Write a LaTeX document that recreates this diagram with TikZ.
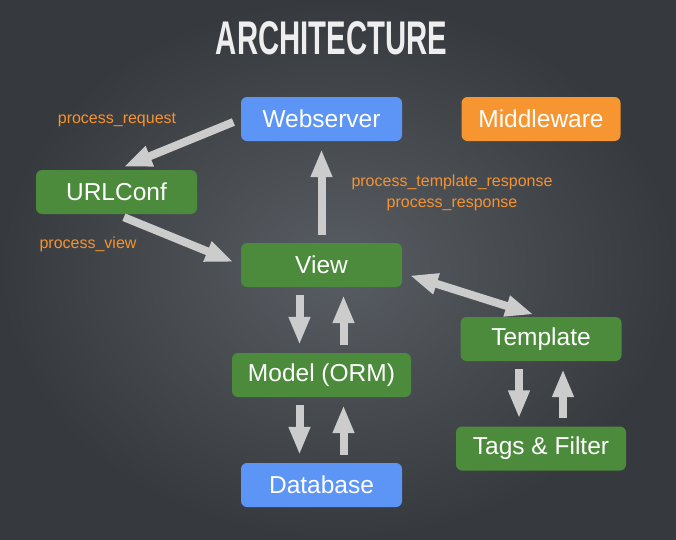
\documentclass[tikz,border=0pt]{standalone}
\usepackage{fontspec}
\setmainfont{Liberation Sans}
\usetikzlibrary{arrows.meta}
\definecolor{bgdark}{HTML}{363A3E}
\definecolor{bglight}{HTML}{585D63}
\definecolor{titlewhite}{HTML}{EEEEEE}
\definecolor{boxgreen}{HTML}{4B8B3B}
\definecolor{boxblue}{HTML}{5C95F5}
\definecolor{boxorange}{HTML}{F79530}
\definecolor{hookorange}{HTML}{F7922F}
\definecolor{arrowgray}{HTML}{CCCCCC}

\begin{document}
\begin{tikzpicture}[x=1pt,y=-1pt,
  comp/.style={rounded corners=6pt,minimum width=161pt,minimum height=44pt,inner sep=0pt,
    text=white,font=\fontsize{24.5}{24.5}\selectfont},
  hook/.style={text=hookorange,font=\fontsize{16}{21}\selectfont},
  flow/.style={draw=arrowgray,line width=8pt,-{Triangle[width=20pt,length=28pt]},
    shorten <=8pt,shorten >=8pt},
  dflow/.style={flow,{Triangle[width=20pt,length=28pt]}-{Triangle[width=20pt,length=28pt]}}]
\useasboundingbox (0,0) rectangle (676,539);
\shade[inner color=bglight,outer color=bgdark] (0,0) rectangle (676,539);
%
\node[text=titlewhite] (Title) at (331.5,38.5) {\resizebox{231pt}{33pt}{\bfseries ARCHITECTURE}};
%
\node[comp,fill=boxblue] (Webserver) at (321.5,119) {Webserver};
\node[comp,fill=boxorange,minimum width=159pt] (Middleware) at (541,119) {Middleware};
\node[comp,fill=boxgreen] (URLConf) at (116.5,192) {URLConf};
\node[comp,fill=boxgreen] (View) at (321.5,265) {View};
\node[comp,fill=boxgreen,minimum width=179pt] (Model) at (321.5,375) {Model (ORM)};
\node[comp,fill=boxblue] (Database) at (321.5,485) {Database};
\node[comp,fill=boxgreen] (Template) at (541,339) {Template};
\node[comp,fill=boxgreen,minimum width=170pt] (Tags) at (541,448.5) {Tags \& Filter};
%
\node[hook] (request) at (117,120) {process\_request};
\node[hook] (viewhook) at (88,244) {process\_view};
\node[hook,align=center] (response) at (452,192.5) {process\_template\_response\\process\_response};
%
\draw[flow] (Webserver.west) -- (URLConf.north);
\draw[flow] (URLConf.south) -- (View.west);
\draw[flow] (View.north) -- (Webserver.south);
\draw[dflow] ([yshift=-8pt]View.east) -- (Template.north);
\draw[flow] ([xshift=-22pt]View.south) -- ([xshift=-22pt]Model.north);
\draw[flow] ([xshift=22pt]Model.north) -- ([xshift=22pt]View.south);
\draw[flow] ([xshift=-22pt]Model.south) -- ([xshift=-22pt]Database.north);
\draw[flow] ([xshift=22pt]Database.north) -- ([xshift=22pt]Model.south);
\draw[flow] ([xshift=-22pt]Template.south) -- ([xshift=-22pt]Tags.north);
\draw[flow] ([xshift=22pt]Tags.north) -- ([xshift=22pt]Template.south);
\end{tikzpicture}
\end{document}
